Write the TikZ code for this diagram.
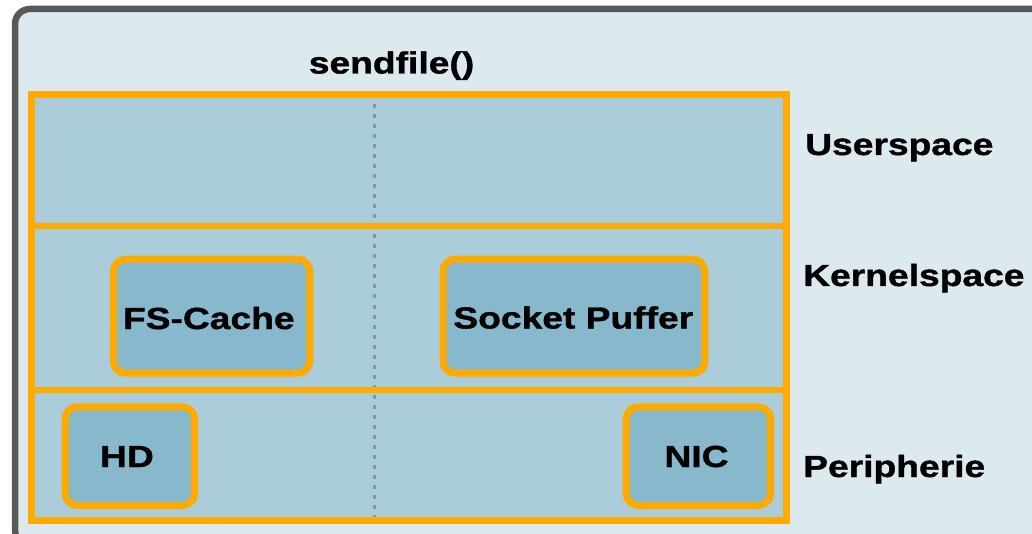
\documentclass[tikz,border=0pt]{standalone}
\usepackage{fontspec}
\setmainfont{Liberation Sans}
\newfontfamily\labelfont{Liberation Sans Bold}[FakeStretch=1.22,FakeBold=1.2]
\definecolor{bgc}{HTML}{DCE9EF}
\definecolor{layerc}{HTML}{ABCDD9}
\definecolor{boxc}{HTML}{87B8CC}
\definecolor{orangec}{HTML}{FFAA00}
\definecolor{framec}{HTML}{595959}
\definecolor{dotc}{HTML}{8497A0}
\tikzset{
  lbl/.style={font=\labelfont\fontsize{30.5}{30.5}\selectfont, inner sep=0pt, text=black},
  compbox/.style={draw=orangec, line width=7pt, fill=boxc, rounded corners=12pt,
     inner sep=0pt},
  orangeline/.style={draw=orangec, line width=6.5pt},
}
\begin{document}
\begin{tikzpicture}[x=1pt,y=-1pt]
\useasboundingbox (0,0) rectangle (1032,534);
\clip (0,0) rectangle (1032,534);
\fill[white] (0,0) rectangle (1032,534);
% outer frame
\draw[framec, line width=6.5pt, fill=bgc, rounded corners=15pt] (15,9) rectangle (1060,545);
% layers
\fill[layerc] (31.7,94.5) rectangle (786.5,520.5);
\coordinate (dtop) at (374.7,94.5);
\coordinate (dbot) at (374.7,520.5);
\draw[dotc, line width=3pt, dash pattern=on 4pt off 6pt] (dtop) -- (dbot);
\draw[orangeline] (31.7,94.5) rectangle (786.5,520.5);
\coordinate (d1l) at (31.7,226);
\coordinate (d1r) at (786.5,226);
\coordinate (d2l) at (31.7,390);
\coordinate (d2r) at (786.5,390);
\draw[orangeline] (d1l) -- (d1r);
\draw[orangeline] (d2l) -- (d2r);
% boxes
\node[compbox, minimum width=196.3pt, minimum height=114pt] (fs) at (211.6,316.2) {};
\node[compbox, minimum width=261.8pt, minimum height=114pt] (sock) at (573.9,316.2) {};
\node[compbox, minimum width=129.3pt, minimum height=98.7pt] (hd) at (129.85,456.15) {};
\node[compbox, minimum width=144.3pt, minimum height=98.7pt] (nic) at (698.35,456.15) {};
% texts
\node[lbl, anchor=base] (fst) at (208.8,329) {FS-Cache};
\node[lbl, anchor=base] (sockt) at (573.3,328.5) {Socket Puffer};
\node[lbl, anchor=base] (hdt) at (127,467) {HD};
\node[lbl, anchor=base] (nict) at (696.5,467) {NIC};
\node[lbl, anchor=base] (title) at (391.5,73.5) {sendfile()};
\node[lbl, anchor=base west] (user) at (805,155) {Userspace};
\node[lbl, anchor=base west] (kern) at (803,286) {Kernelspace};
\node[lbl, anchor=base west] (peri) at (803,477) {Peripherie};
\end{tikzpicture}
\end{document}
